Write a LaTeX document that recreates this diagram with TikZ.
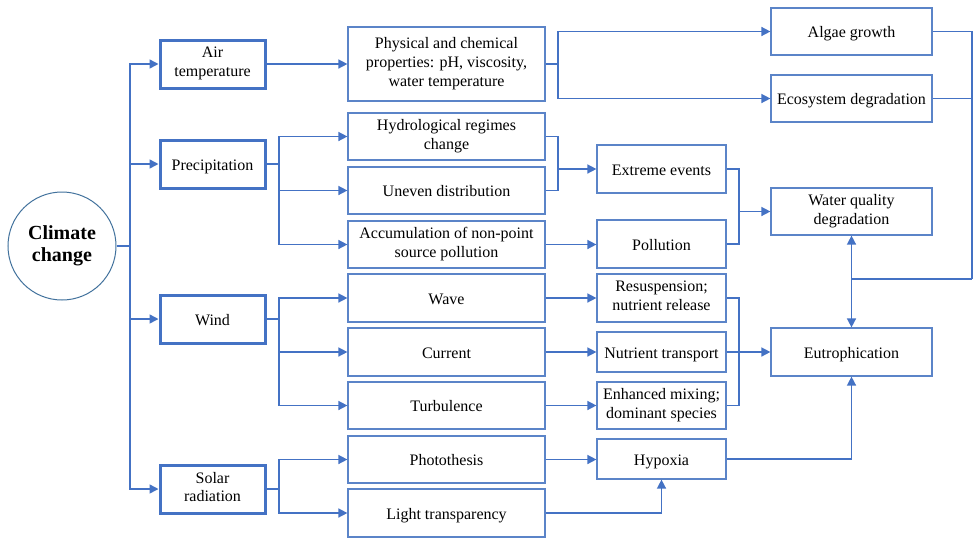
\documentclass[tikz,border=0pt]{standalone}
\usepackage{fontspec}
\setmainfont{Liberation Serif}
\usetikzlibrary{arrows.meta}
\definecolor{lblue}{HTML}{4472C4}
\definecolor{bblue}{HTML}{5B84C8}
\definecolor{cblue}{HTML}{41719C}
\newcommand{\mystrut}{\rule[-4pt]{0pt}{20pt}}
\begin{document}
\begin{tikzpicture}[x=1pt,y=-1pt,
  every node/.style={font=\rmfamily\fontsize{16}{18.7}\selectfont, align=center, inner sep=1pt,
    execute at begin node=\mystrut, execute at end node=\mystrut},
  box/.style={draw=bblue, line width=1.2pt, minimum height=47pt},
  tbox/.style={draw=lblue, line width=3pt, minimum width=105pt, minimum height=48pt},
  con/.style={draw=lblue, line width=1.5pt},
  arr/.style={con, -{Triangle[length=9pt,width=9pt]}}]
\useasboundingbox (0,0) rectangle (974,539);
% nodes
\node[circle, draw=cblue, line width=1pt, minimum size=108pt, inner sep=0pt, font=\rmfamily\fontsize{20}{22}\selectfont\bfseries] (cc) at (62,246) {Climate\\change};
\node[tbox] (air) at (212.5,64) {Air\\temperature};
\node[tbox] (pre) at (212.5,164) {Precipitation};
\node[tbox] (win) at (212.5,319) {Wind};
\node[tbox] (sol) at (212.5,489) {Solar\\radiation};
\node[box, minimum width=197pt, minimum height=74pt] (phy) at (446.5,64) {Physical and chemical\\properties: pH, viscosity,\\water temperature};
\node[box, minimum width=197pt] (hyd) at (446.5,136.5) {Hydrological regimes\\change};
\node[box, minimum width=197pt] (une) at (446.5,190.5) {Uneven distribution};
\node[box, minimum width=197pt] (acc) at (446.5,244.5) {Accumulation of non-point\\source pollution};
\node[box, minimum width=197pt, minimum height=48pt] (wav) at (446.5,298) {Wave};
\node[box, minimum width=197pt, minimum height=48pt] (cur) at (446.5,352) {Current};
\node[box, minimum width=197pt] (tur) at (446.5,405.5) {Turbulence};
\node[box, minimum width=197pt] (pho) at (446.5,459.5) {Photothesis};
\node[box, minimum width=197pt, minimum height=48pt] (lig) at (446.5,513) {Light transparency};
\node[box, minimum width=129pt, minimum height=48pt] (ext) at (661.5,169) {Extreme events};
\node[box, minimum width=129pt, minimum height=48pt] (pol) at (661.5,244) {Pollution};
\node[box, minimum width=129pt, minimum height=48pt] (res) at (661.5,298) {Resuspension;\\nutrient release};
\node[box, minimum width=129pt, minimum height=40pt] (nut) at (661.5,352) {Nutrient transport};
\node[box, minimum width=129pt] (enh) at (661.5,405.5) {Enhanced mixing;\\dominant species};
\node[box, minimum width=129pt, minimum height=40pt] (hyp) at (661.5,459) {Hypoxia};
\node[box, minimum width=161pt] (alg) at (851.5,31.5) {Algae growth};
\node[box, minimum width=161pt] (eco) at (851.5,98.5) {Ecosystem degradation};
\node[box, minimum width=161pt] (wqd) at (851.5,211.5) {Water quality\\degradation};
\node[box, minimum width=161pt, minimum height=48pt] (eut) at (851.5,352) {Eutrophication};
% junction coordinates
\coordinate (t) at (130,246);
\coordinate (pb) at (279,164);
\coordinate (wb) at (279,319);
\coordinate (sb) at (279,489);
\coordinate (pj) at (558,64);
\coordinate (m1) at (558,169);
\coordinate (m2) at (739,211.5);
\coordinate (m3) at (739,352);
\coordinate (r) at (972,279);
\coordinate (j) at (851.5,279);
% connectors
\draw[con] (cc) -- (t);
\draw[arr] (t) |- (air.west);
\draw[arr] (t) |- (pre.west);
\draw[arr] (t) |- (win.west);
\draw[arr] (t) |- (sol.west);
\draw[arr] (air.east) -- (phy.west);
\draw[con] (phy.east) -- (pj);
\draw[arr] (pj) |- (alg.west);
\draw[arr] (pj) |- (eco.west);
\draw[con] (pre.east) -- (pb);
\draw[arr] (pb) |- (hyd.west);
\draw[arr] (pb) |- (une.west);
\draw[arr] (pb) |- (acc.west);
\draw[con] (hyd.east) -| (m1);
\draw[con] (une.east) -| (m1);
\draw[arr] (m1) -- (ext.west);
\draw[arr] (acc.east) -- (acc.east -| pol.west);
\draw[con] (ext.east) -| (m2);
\draw[con] (pol.east) -| (m2);
\draw[arr] (m2) -- (wqd.west);
\draw[con] (win.east) -- (wb);
\draw[arr] (wb) |- (wav.west);
\draw[arr] (wb) |- (cur.west);
\draw[arr] (wb) |- (tur.west);
\draw[arr] (wav.east) -- (res.west);
\draw[arr] (cur.east) -- (nut.west);
\draw[arr] (tur.east) -- (enh.west);
\draw[con] (res.east) -| (m3);
\draw[con] (enh.east) -| (m3);
\draw[arr] (nut.east) -- (eut.west);
\draw[con] (sol.east) -- (sb);
\draw[arr] (sb) |- (pho.west);
\draw[arr] (sb) |- (lig.west);
\draw[arr] (pho.east) -- (pho.east -| hyp.west);
\draw[arr] (lig.east) -| (hyp.south);
\draw[arr] (hyp.east) -| (eut.south);
\draw[con] (alg.east) -| (r);
\draw[con] (eco.east) -| (r);
\draw[con] (r) -- (j);
\draw[arr] (j) -- (wqd.south);
\draw[arr] (j) -- (eut.north);
\end{tikzpicture}
\end{document}
